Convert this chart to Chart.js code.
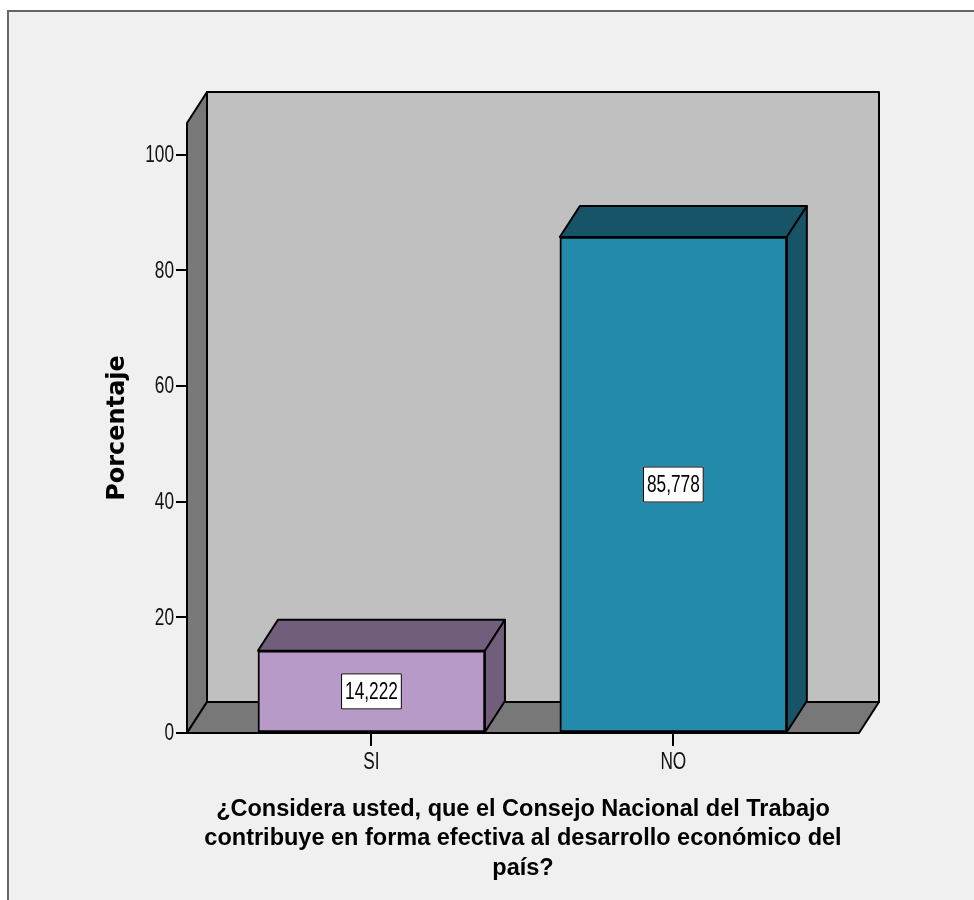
<!DOCTYPE html>
<html>
<head>
<meta charset="utf-8">
<title>Consejo Nacional del Trabajo</title>
<script src="https://cdn.jsdelivr.net/npm/chart.js@4.4.1/dist/chart.umd.min.js"></script>
<style>
  html, body { margin: 0; padding: 0; background: #fff; overflow: hidden; }
  #frame {
    position: absolute; left: 7px; top: 10px; right: 0; bottom: 0;
    background: #f0f0f0;
    border-top: 2px solid #666;
    border-left: 2px solid #666;
  }
  #chart { position: absolute; left: 0; top: 0; }
</style>
</head>
<body>
<div id="frame"></div>
<canvas id="chart" width="974" height="900"></canvas>
<script>
// answers and their share (%)
const categories = ["SI", "NO"];
const percentages = [14.222, 85.778];
const yTicks = [0, 20, 40, 60, 80, 100];

const frontColors = ["#b89ac8", "#238aac"];
const shadeColors = ["#715e7a", "#175468"];

// depth of the fake 3D boxes
const DX = 20;
const DY = -31;

// condensed look for the small labels
const NARROW = 0.75;
const SMALL_FONT = "23px 'Liberation Sans', Arial, sans-serif";

function poly(ctx, pts, fill) {
  ctx.beginPath();
  ctx.moveTo(pts[0][0], pts[0][1]);
  for (let i = 1; i < pts.length; i++) ctx.lineTo(pts[i][0], pts[i][1]);
  ctx.closePath();
  ctx.fillStyle = fill;
  ctx.fill();
  ctx.stroke();
}

function narrowText(ctx, txt, x, y, align) {
  ctx.save();
  ctx.font = SMALL_FONT;
  ctx.textAlign = align;
  ctx.textBaseline = "middle";
  ctx.translate(x, y);
  ctx.scale(NARROW, 1);
  ctx.fillText(txt, 0, 0);
  ctx.restore();
}

const box3d = {
  id: "box3d",
  beforeDatasetsDraw(chart) {
    const { ctx, chartArea: a } = chart;
    const y0 = chart.scales.y.getPixelForValue(0);
    ctx.save();
    ctx.lineWidth = 2;
    ctx.strokeStyle = "#000";
    ctx.lineJoin = "round";
    // back wall, left wall, floor
    poly(ctx, [[a.left + DX, a.top + DY], [a.right + DX, a.top + DY], [a.right + DX, y0 + DY], [a.left + DX, y0 + DY]], "#c0c0c0");
    poly(ctx, [[a.left, a.top], [a.left + DX, a.top + DY], [a.left + DX, y0 + DY], [a.left, y0]], "#787878");
    poly(ctx, [[a.left, y0], [a.left + DX, y0 + DY], [a.right + DX, y0 + DY], [a.right, y0]], "#787878");
    ctx.restore();
  },
  afterDatasetsDraw(chart) {
    const { ctx } = chart;
    const meta = chart.getDatasetMeta(0);
    ctx.save();
    ctx.lineWidth = 2;
    ctx.strokeStyle = "#000";
    ctx.lineJoin = "round";
    meta.data.forEach((bar, i) => {
      const { x, y, base, width } = bar.getProps(["x", "y", "base", "width"], true);
      const l = x - width / 2, r = x + width / 2;
      poly(ctx, [[l, y], [l + DX, y + DY], [r + DX, y + DY], [r, y]], shadeColors[i]);
      poly(ctx, [[r, y], [r + DX, y + DY], [r + DX, base + DY], [r, base]], shadeColors[i]);

      // value box in the middle of the bar
      const txt = percentages[i].toFixed(3).replace(".", ",");
      ctx.font = SMALL_FONT;
      const tw = ctx.measureText(txt).width * NARROW;
      const bw = tw + 8, bh = 36;
      const cy = (y + base) / 2;
      ctx.lineWidth = 1;
      ctx.fillStyle = "#fff";
      ctx.fillRect(x - bw / 2, cy - bh / 2, bw, bh);
      ctx.strokeRect(x - bw / 2 + 0.5, cy - bh / 2 + 0.5, bw - 1, bh - 1);
      ctx.fillStyle = "#000";
      narrowText(ctx, txt, x, cy + 1, "center");
      ctx.lineWidth = 2;
    });
    ctx.restore();
  },
  afterDraw(chart) {
    // tick labels in the condensed face
    const { ctx, scales: { x: xs, y: ys } } = chart;
    ctx.save();
    ctx.fillStyle = "#111";
    ys.ticks.forEach((t) => narrowText(ctx, String(t.value), ys.right - 13, ys.getPixelForValue(t.value) + 1, "right"));
    xs.ticks.forEach((t) => narrowText(ctx, categories[t.value], xs.getPixelForValue(t.value), xs.top + 30, "center"));
    ctx.restore();
  }
};

new Chart(document.getElementById("chart"), {
  type: "bar",
  data: {
    datasets: [{
      data: categories.map((c, i) => ({ x: i, y: percentages[i] })),
      backgroundColor: frontColors,
      borderColor: "#000",
      borderWidth: 2,
      borderSkipped: false,
      barThickness: 227
    }]
  },
  options: {
    responsive: false,
    animation: false,
    layout: { padding: { top: 123, right: 115, left: 0, bottom: 0 } },
    plugins: { legend: { display: false }, tooltip: { enabled: false } },
    scales: {
      x: {
        type: "linear",
        offset: false,
        min: -0.611,
        max: 1.615,
        afterBuildTicks: (s) => { s.ticks = categories.map((c, i) => ({ value: i })); },
        afterFit: (s) => { s.height = 167; },
        ticks: { display: false },
        grid: { offset: false, drawOnChartArea: false, drawTicks: true, tickLength: 13, color: "#000", lineWidth: 2 },
        border: { display: false },
        title: {
          display: true,
          text: [
            "¿Considera usted, que el Consejo Nacional del Trabajo",
            "contribuye en forma efectiva al desarrollo económico del",
            "país?"
          ],
          color: "#000",
          font: { family: "'Liberation Sans', Arial, sans-serif", size: 23.5, weight: "bold", lineHeight: 1.26 },
          padding: { top: 0, bottom: 16.8 }
        }
      },
      y: {
        min: 0,
        max: 105.5,
        afterBuildTicks: (s) => { s.ticks = yTicks.map((v) => ({ value: v })); },
        afterFit: (s) => { s.width = 187; },
        ticks: { display: false },
        grid: { drawOnChartArea: false, drawTicks: true, tickLength: 11, color: "#000", lineWidth: 2 },
        border: { display: false },
        title: {
          display: true,
          text: "Porcentaje",
          color: "#000",
          font: { family: "'DejaVu Sans', sans-serif", size: 24, weight: "bold" },
          padding: { top: 103.6, bottom: 0 }
        }
      }
    }
  },
  plugins: [box3d]
});
</script>
</body>
</html>
